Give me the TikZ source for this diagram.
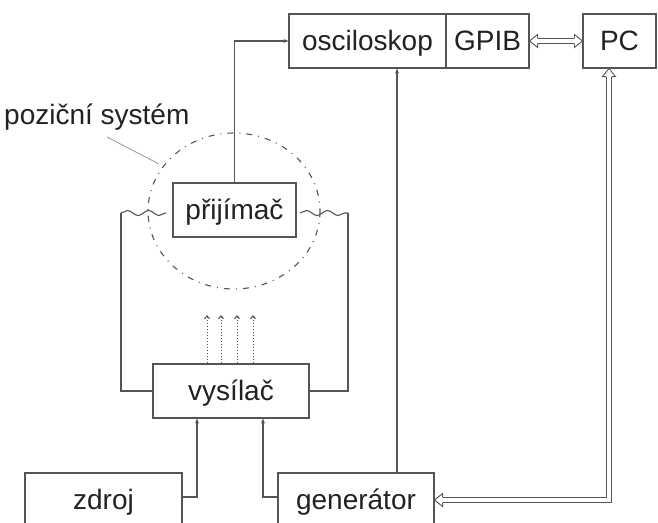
\documentclass[tikz,border=0pt]{standalone}
\usepackage{fontspec}
\setmainfont{Liberation Sans}
\usetikzlibrary{arrows.meta,decorations.pathmorphing}
\definecolor{ln}{HTML}{555555}
\definecolor{tx}{HTML}{222222}
\begin{document}
\begin{tikzpicture}[x=1pt,y=-1pt,
  box/.style={draw=ln, line width=1.1pt, rectangle, minimum height=54pt, inner sep=0pt,
    text=tx, font=\fontsize{28}{32}\selectfont, text height=24pt, text depth=6pt},
  lnk/.style={draw=ln, line width=1.1pt},
  arr/.style={lnk, -{Stealth[length=5pt,width=4pt]}},
  dbl/.style={draw=ln, line width=0.9pt, double=white, double distance=4.5pt, shorten <=8pt, shorten >=8pt},
  imp/.pic={\filldraw[draw=ln, fill=white, line width=0.9pt, line join=miter]
     (-8,2.7) -- (-8,6.5) -- (0,0) -- (-8,-6.5) -- (-8,-2.7);},
  wave/.style={lnk, decorate, decoration={snake, segment length=21pt, amplitude=2.5pt}},
  dotarr/.style={draw=ln, line width=1pt, dotted, -{Straight Barb[length=3pt,width=5pt]}}]
\useasboundingbox (0,0) rectangle (658,522);
\clip (0,0) rectangle (658,522);
\fill[white] (0,0) rectangle (658,522);

% boxes
\node[box, minimum width=157pt] (osc) at (367.5,41) {osciloskop};
\node[box, minimum width=83pt] (gpib) at (487.5,41) {GPIB};
\node[box, minimum width=73pt] (pc) at (619.5,41) {PC};
\node[box, minimum width=123pt] (prij) at (234.5,210) {přijímač};
\node[box, minimum width=156pt] (vys) at (231,391) {vysílač};
\node[box, minimum width=157pt] (zdroj) at (103.5,500) {zdroj};
\node[box, minimum width=156pt] (gen) at (356,500) {generátor};

% position system
\draw[ln, line width=1.1pt, dash pattern=on 6pt off 6pt on 1pt off 6pt] (234,211) ellipse [x radius=86, y radius=78];
\node[anchor=base west, text=tx, font=\fontsize{28}{32}\selectfont, inner sep=0pt] (pos) at (4,124) {poziční systém};
\coordinate (leadA) at (107,137);
\coordinate (leadB) at (159,164);
\draw[ln!60, line width=0.8pt] (leadA) -- (leadB);

% coordinates
\coordinate (oscx) at (397,0);
\coordinate (pcx) at (609,0);
\coordinate (gy) at (0,500);
\coordinate (zx) at (197,0);
\coordinate (gx) at (263,0);
\coordinate (lx) at (121,213);
\coordinate (rx) at (348,213);
\coordinate (lw) at (166,213);
\coordinate (rw) at (300,213);

% connectors
\draw[arr] (prij.north) |- (osc.west);
\draw[arr] (gen.north -| oscx) -- (osc.south -| oscx);
\draw[dbl] (gpib.east) -- (pc.west);
\pic[rotate=180] at (gpib.east) {imp};
\pic at (pc.west) {imp};
\draw[dbl] (pc.south -| pcx) |- (gen.east |- gy);
\pic[rotate=90] at (pc.south -| pcx) {imp};
\pic[rotate=180] at (gen.east |- gy) {imp};
\draw[arr] (zdroj.east |- 0,497) -| (vys.south -| zx);
\draw[arr] (gen.west |- 0,497) -| (vys.south -| gx);
\draw[lnk] (vys.west) -| (lx);
\draw[lnk] (vys.east) -| (rx);
\draw[wave] (lx) -- (lw);
\draw[wave] (rw) -- (rx);

% signal arrows
\foreach \i/\x in {1/207,2/221,3/237,4/253} {
  \coordinate (sa\i) at (\x,315);
  \draw[dotarr] (vys.north -| sa\i) -- (sa\i);
}
\end{tikzpicture}
\end{document}
